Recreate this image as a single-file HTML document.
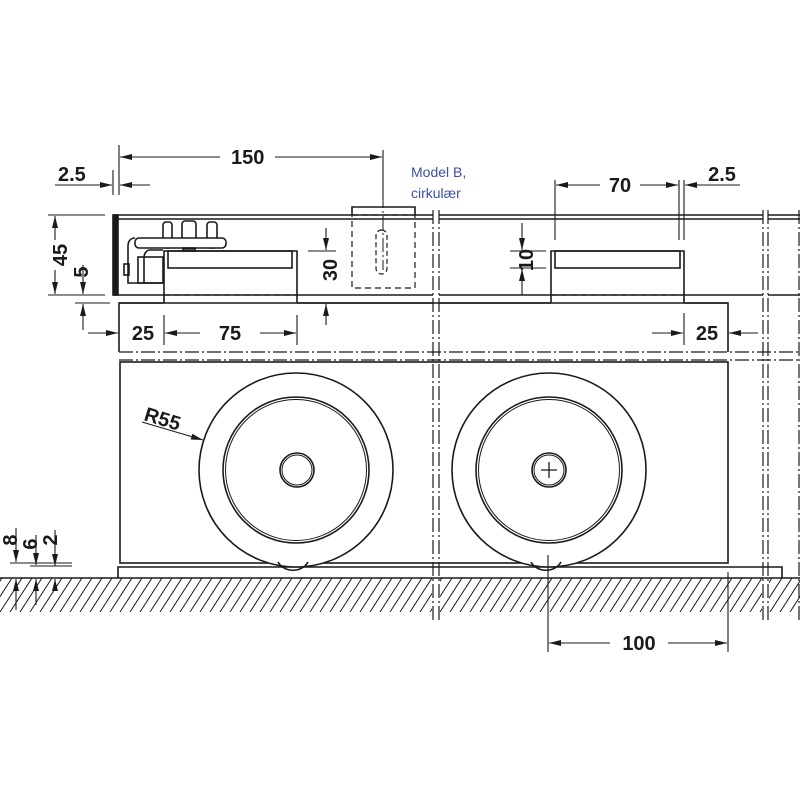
<!DOCTYPE html>
<html><head><meta charset="utf-8"><style>
html,body{margin:0;padding:0;background:#fff;width:800px;height:800px;overflow:hidden}
svg{display:block}
.t{font-family:"Liberation Sans",sans-serif;font-weight:bold;font-size:20px;fill:#1a1a1a}
</style></head><body>
<svg width="800" height="800" viewBox="0 0 800 800" xmlns="http://www.w3.org/2000/svg">
<defs>
<marker id="a" viewBox="0 0 12 6" refX="12" refY="3" markerWidth="12" markerHeight="6" orient="auto" markerUnits="userSpaceOnUse"><path d="M0,0 L12,3 L0,6z" fill="#1a1a1a"/></marker>
<clipPath id="hc"><rect x="0" y="578" width="800" height="34"/></clipPath>
</defs>
<g stroke="#1a1a1a" fill="none" stroke-width="1.6">
<g clip-path="url(#hc)" stroke-width="1">
<path d="M-30,612 L-8,578 M-20,612 L2,578 M-10,612 L12,578 M0,612 L22,578 M10,612 L32,578 M20,612 L42,578 M30,612 L52,578 M40,612 L62,578 M50,612 L72,578 M60,612 L82,578 M70,612 L92,578 M80,612 L102,578 M90,612 L112,578 M100,612 L122,578 M110,612 L132,578 M120,612 L142,578 M130,612 L152,578 M140,612 L162,578 M150,612 L172,578 M160,612 L182,578 M170,612 L192,578 M180,612 L202,578 M190,612 L212,578 M200,612 L222,578 M210,612 L232,578 M220,612 L242,578 M230,612 L252,578 M240,612 L262,578 M250,612 L272,578 M260,612 L282,578 M270,612 L292,578 M280,612 L302,578 M290,612 L312,578 M300,612 L322,578 M310,612 L332,578 M320,612 L342,578 M330,612 L352,578 M340,612 L362,578 M350,612 L372,578 M360,612 L382,578 M370,612 L392,578 M380,612 L402,578 M390,612 L412,578 M400,612 L422,578 M410,612 L432,578 M420,612 L442,578 M430,612 L452,578 M440,612 L462,578 M450,612 L472,578 M460,612 L482,578 M470,612 L492,578 M480,612 L502,578 M490,612 L512,578 M500,612 L522,578 M510,612 L532,578 M520,612 L542,578 M530,612 L552,578 M540,612 L562,578 M550,612 L572,578 M560,612 L582,578 M570,612 L592,578 M580,612 L602,578 M590,612 L612,578 M600,612 L622,578 M610,612 L632,578 M620,612 L642,578 M630,612 L652,578 M640,612 L662,578 M650,612 L672,578 M660,612 L682,578 M670,612 L692,578 M680,612 L702,578 M690,612 L712,578 M700,612 L722,578 M710,612 L732,578 M720,612 L742,578 M730,612 L752,578 M740,612 L762,578 M750,612 L772,578 M760,612 L782,578 M770,612 L792,578 M780,612 L802,578 M790,612 L812,578"/>
</g>
<rect x="432" y="578" width="8" height="36" fill="#fff" stroke="none"/>
<rect x="762" y="578" width="7" height="36" fill="#fff" stroke="none"/>
<line x1="0" y1="578" x2="800" y2="578"/>
<path d="M118,578 V567 H782 V578"/>
<rect x="120" y="362" width="608" height="201" fill="#fff"/>
<path d="M119,352 V303 H728 V352"/>
<path d="M113,215 H433 M113,219 H433 M439,215 H763 M439,219 H763 M768,215 H800 M768,219 H800"/>
<path d="M113,295 H433 M439,295 H763 M768,295 H800 M119,303 H164 M297,303 H433 M439,303 H551 M684,303 H728"/>
<rect x="113" y="215" width="5" height="80" fill="#1a1a1a"/>
<path d="M164,303 V251 H297 V303"/><rect x="168" y="251" width="124" height="17"/>
<path d="M551,303 V251 H684 V303"/><rect x="555" y="251" width="125" height="17"/>
<path d="M164,295 H297 M551,295 H684" stroke-dasharray="6,4" stroke-width="1.2"/>
<!-- mechanism -->
<path d="M135,238 C130,238 128,242 128,246 V283 H163"/>
<path d="M163,250 H150 C146,250 144,254 144,258 V283"/>
<rect x="138" y="257" width="25" height="26"/>
<rect x="163" y="222" width="9" height="26" rx="3" fill="#fff"/>
<rect x="182" y="221" width="14" height="28" rx="3" fill="#fff"/>
<rect x="207" y="222" width="10" height="26" rx="3" fill="#fff"/>
<rect x="135" y="238" width="91" height="10" rx="4" fill="#fff"/>
<rect x="183" y="248" width="12" height="3"/>
<rect x="124" y="264" width="5" height="11"/>
<path d="M352,215 V207 H415 V215"/>
<rect x="352" y="215" width="63" height="73" stroke-dasharray="6,4" stroke-width="1.2"/>
<rect x="376" y="230" width="11" height="44" rx="5.5" stroke-dasharray="5,3" stroke-width="1.2"/>
<circle cx="296" cy="470" r="97" fill="#fff"/>
<circle cx="296" cy="470" r="73"/><circle cx="296" cy="470" r="70.5" stroke-width="1"/>
<circle cx="297" cy="470" r="17"/><circle cx="297" cy="470" r="15" stroke-width="1"/>
<path d="M278,562 C284,573 302,573 308,562"/>
<circle cx="549" cy="470" r="97" fill="#fff"/>
<circle cx="549" cy="470" r="73"/><circle cx="549" cy="470" r="70.5" stroke-width="1"/>
<circle cx="549" cy="470" r="17"/><circle cx="549" cy="470" r="15" stroke-width="1"/>
<path d="M541,470 H557 M549,462 V478" stroke-width="1.3"/>
<path d="M531,562 C537,573 555,573 561,562"/>
<g stroke-width="1.2" stroke-dasharray="14,3,2,3">
<path d="M119,352 H800 M119,360 H800"/>
<path d="M433,210 V620 M439,210 V620 M763,210 V620 M768,210 V620 M799,210 V620"/>
</g>
<path d="M383,150 V270" stroke-width="1" stroke-dasharray="14,3,2,3"/>
<g stroke-width="1.1">
<path d="M119,145 V195 M113,170 V195 M383,150 V200"/>
<line x1="220" y1="157" x2="120" y2="157" marker-end="url(#a)"/>
<line x1="275" y1="157" x2="382" y2="157" marker-end="url(#a)"/>
<line x1="55" y1="185" x2="112" y2="185" marker-end="url(#a)"/>
<line x1="150" y1="185" x2="120" y2="185" marker-end="url(#a)"/>
<path d="M48,215 H105 M48,295 H105 M75,303 H110"/>
<line x1="55" y1="240" x2="55" y2="216" marker-end="url(#a)"/>
<line x1="55" y1="270" x2="55" y2="294" marker-end="url(#a)"/>
<line x1="83" y1="265" x2="83" y2="294" marker-end="url(#a)"/>
<line x1="83" y1="330" x2="83" y2="304" marker-end="url(#a)"/>
<line x1="88" y1="333" x2="118" y2="333" marker-end="url(#a)"/>
<path d="M164,315 V345 M297,315 V345"/>
<line x1="200" y1="333" x2="165" y2="333" marker-end="url(#a)"/>
<line x1="260" y1="333" x2="296" y2="333" marker-end="url(#a)"/>
<path d="M308,251 H336"/>
<line x1="326" y1="228" x2="326" y2="250" marker-end="url(#a)"/>
<line x1="326" y1="325" x2="326" y2="304" marker-end="url(#a)"/>
<path d="M555,180 V240 M679,180 V240 M684,180 V240"/>
<line x1="600" y1="185" x2="556" y2="185" marker-end="url(#a)"/>
<line x1="640" y1="185" x2="678" y2="185" marker-end="url(#a)"/>
<line x1="740" y1="185" x2="685" y2="185" marker-end="url(#a)"/>
<path d="M510,251 H546 M510,268 H546"/>
<line x1="522" y1="223" x2="522" y2="250" marker-end="url(#a)"/>
<line x1="522" y1="295" x2="522" y2="269" marker-end="url(#a)"/>
<path d="M684,313 V345"/>
<line x1="652" y1="333" x2="683" y2="333" marker-end="url(#a)"/>
<line x1="758" y1="333" x2="729" y2="333" marker-end="url(#a)"/>
<line x1="142" y1="422" x2="203" y2="440" marker-end="url(#a)"/>
<path d="M10,563 H72 M30,566 H72"/>
<line x1="16" y1="528" x2="16" y2="562" marker-end="url(#a)"/>
<line x1="16" y1="610" x2="16" y2="579" marker-end="url(#a)"/>
<line x1="36" y1="535" x2="36" y2="565" marker-end="url(#a)"/>
<line x1="36" y1="605" x2="36" y2="579" marker-end="url(#a)"/>
<line x1="55" y1="530" x2="55" y2="566" marker-end="url(#a)"/>
<line x1="55" y1="590" x2="55" y2="579" marker-end="url(#a)"/>
<path d="M548,555 V652 M728,572 V652"/>
<line x1="610" y1="643" x2="549" y2="643" marker-end="url(#a)"/>
<line x1="668" y1="643" x2="727" y2="643" marker-end="url(#a)"/>
</g>
</g>
<g class="t">
<text x="231" y="164">150</text>
<text x="58" y="181">2.5</text>
<text transform="translate(67,255) rotate(-90)" text-anchor="middle">45</text>
<text transform="translate(88,272) rotate(-90)" text-anchor="middle">5</text>
<text transform="translate(337,270) rotate(-90)" text-anchor="middle">30</text>
<text x="143" y="340" text-anchor="middle">25</text>
<text x="230" y="340" text-anchor="middle">75</text>
<text x="620" y="192" text-anchor="middle">70</text>
<text x="722" y="181" text-anchor="middle">2.5</text>
<text transform="translate(533,260) rotate(-90)" text-anchor="middle">10</text>
<text x="707" y="340" text-anchor="middle">25</text>
<text transform="translate(143,420) rotate(17)">R55</text>
<text transform="translate(17,540) rotate(-90)" text-anchor="middle">8</text>
<text transform="translate(37,544) rotate(-90)" text-anchor="middle">6</text>
<text transform="translate(57,540) rotate(-90)" text-anchor="middle">2</text>
<text x="639" y="650" text-anchor="middle">100</text>
</g>
<g font-family="'Liberation Sans',sans-serif" font-size="14" fill="#3f4fa0">
<text x="411" y="177">Model B,</text>
<text x="411" y="198">cirkulær</text>
</g>
</svg>
</body></html>
